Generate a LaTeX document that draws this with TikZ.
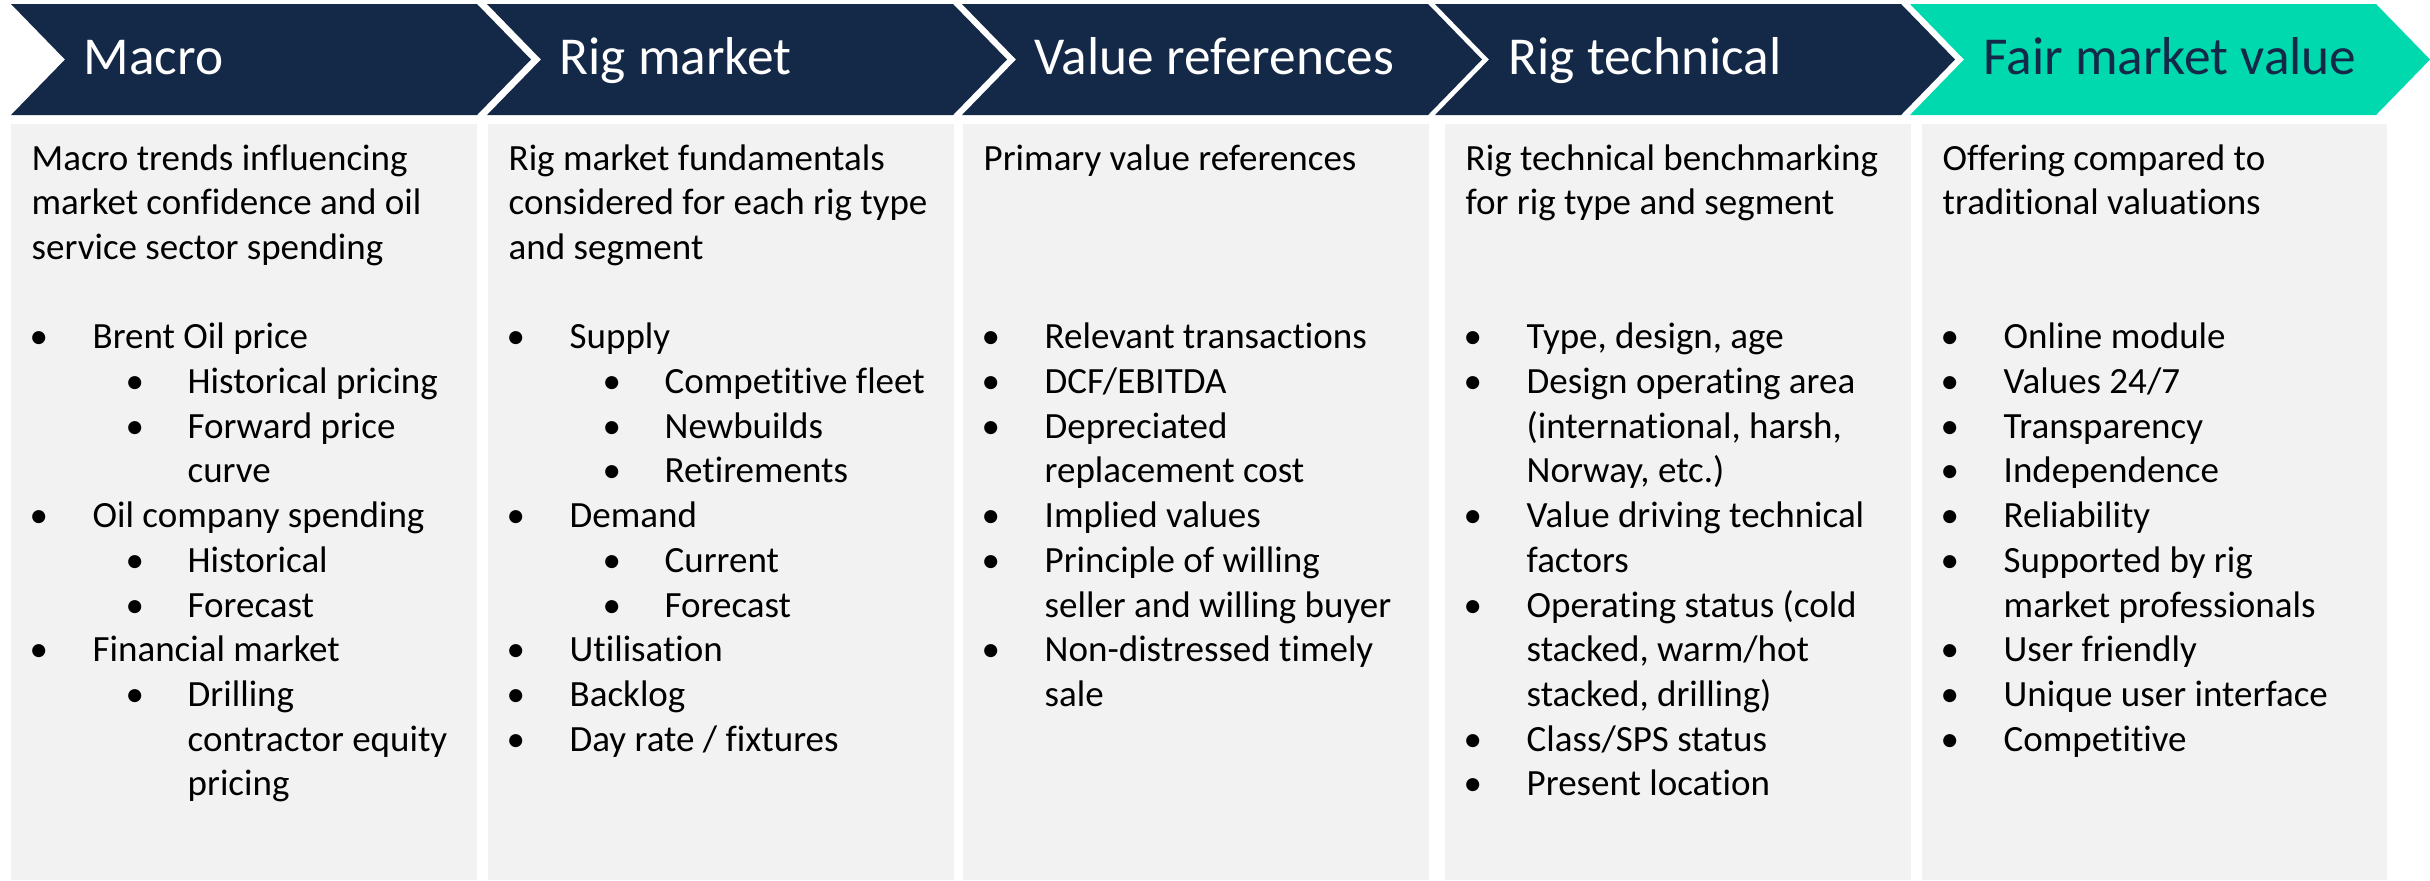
\documentclass[tikz,border=0pt]{standalone}
\usepackage{fontspec}
\setmainfont{Carlito}[Ligatures=NoCommon]
\definecolor{navy}{RGB}{20,40,72}
\definecolor{teal}{RGB}{0,216,174}
\definecolor{boxgray}{RGB}{242,242,242}
\tikzset{
  chev/.style={fill=navy, draw=none},
  chevlast/.style={fill=teal, draw=none},
  panel/.style={fill=boxgray, draw=none},
  headtxt/.style={inner sep=0pt, anchor=base west, text=white, font=\fontsize{16}{19}\selectfont},
  bodytxt/.style={inner sep=0pt, anchor=base west, text=black, font=\fontsize{11.1}{13.4}\selectfont},
}
\newcommand\mkPlain[3]{\node[bodytxt] (p#1-#2) at ({#1+20},{170+#2*44.7}) {#3};}
\newcommand\mkBul[3]{\node[bodytxt] (b#1-#2) at ({#1+18},{170+#2*44.7}) {•};
  \node[bodytxt] (t#1-#2) at ({#1+81},{170+#2*44.7}) {#3};}
\newcommand\mkCont[3]{\node[bodytxt] (t#1-#2) at ({#1+81},{170+#2*44.7}) {#3};}
\newcommand\mkSb[3]{\node[bodytxt] (b#1-#2) at ({#1+114},{170+#2*44.7}) {•};
  \node[bodytxt] (t#1-#2) at ({#1+176},{170+#2*44.7}) {#3};}
\newcommand\mkSbCont[3]{\node[bodytxt] (t#1-#2) at ({#1+176},{170+#2*44.7}) {#3};}
\newcommand\mkChev[3]{% left x, style, name
  \fill[#2] (#1,4) -- ({#1+466},4) -- ({#1+520},59.5) -- ({#1+466},115) -- (#1,115) -- ({#1+54},59.5) -- cycle;}
\begin{document}
\begin{tikzpicture}[x=0.3pt,y=-0.3pt]
\useasboundingbox (0,0) rectangle (2430,880);
% chevrons
\mkChev{11}{chev}{c1}
\mkChev{487}{chev}{c2}
\mkChev{962}{chev}{c3}
\mkChev{1435}{chev}{c4}
\mkChev{1910}{chevlast}{c5}
\node[headtxt] (h1) at (83,74) {Macro};
\node[headtxt] (h2) at (559,74) {Rig market};
\node[headtxt] (h3) at (1034,74) {Value references};
\node[headtxt] (h4) at (1508,74) {Rig technical};
\node[headtxt, text=navy] (h5) at (1983,74) {Fair market value};
% panels
\fill[panel] (11,124) rectangle (477,880);
\fill[panel] (488,124) rectangle (954,880);
\fill[panel] (963,124) rectangle (1429,880);
\fill[panel] (1445,124) rectangle (1911,880);
\fill[panel] (1922,124) rectangle (2387,880);
% column 1
\mkPlain{11}{0}{Macro trends influencing}
\mkPlain{11}{1}{market confidence and oil}
\mkPlain{11}{2}{service sector spending}
\mkBul{11}{4}{Brent Oil price}
\mkSb{11}{5}{Historical pricing}
\mkSb{11}{6}{Forward price}
\mkSbCont{11}{7}{curve}
\mkBul{11}{8}{Oil company spending}
\mkSb{11}{9}{Historical}
\mkSb{11}{10}{Forecast}
\mkBul{11}{11}{Financial market}
\mkSb{11}{12}{Drilling}
\mkSbCont{11}{13}{contractor equity}
\mkSbCont{11}{14}{pricing}
% column 2
\mkPlain{488}{0}{Rig market fundamentals}
\mkPlain{488}{1}{considered for each rig type}
\mkPlain{488}{2}{and segment}
\mkBul{488}{4}{Supply}
\mkSb{488}{5}{Competitive fleet}
\mkSb{488}{6}{Newbuilds}
\mkSb{488}{7}{Retirements}
\mkBul{488}{8}{Demand}
\mkSb{488}{9}{Current}
\mkSb{488}{10}{Forecast}
\mkBul{488}{11}{Utilisation}
\mkBul{488}{12}{Backlog}
\mkBul{488}{13}{Day rate / fixtures}
% column 3
\mkPlain{963}{0}{Primary value references}
\mkBul{963}{4}{Relevant transactions}
\mkBul{963}{5}{DCF/EBITDA}
\mkBul{963}{6}{Depreciated}
\mkCont{963}{7}{replacement cost}
\mkBul{963}{8}{Implied values}
\mkBul{963}{9}{Principle of willing}
\mkCont{963}{10}{seller and willing buyer}
\mkBul{963}{11}{Non-distressed timely}
\mkCont{963}{12}{sale}
% column 4
\mkPlain{1445}{0}{Rig technical benchmarking}
\mkPlain{1445}{1}{for rig type and segment}
\mkBul{1445}{4}{Type, design, age}
\mkBul{1445}{5}{Design operating area}
\mkCont{1445}{6}{(international, harsh,}
\mkCont{1445}{7}{Norway, etc.)}
\mkBul{1445}{8}{Value driving technical}
\mkCont{1445}{9}{factors}
\mkBul{1445}{10}{Operating status (cold}
\mkCont{1445}{11}{stacked, warm/hot}
\mkCont{1445}{12}{stacked, drilling)}
\mkBul{1445}{13}{Class/SPS status}
\mkBul{1445}{14}{Present location}
% column 5
\mkPlain{1922}{0}{Offering compared to}
\mkPlain{1922}{1}{traditional valuations}
\mkBul{1922}{4}{Online module}
\mkBul{1922}{5}{Values 24/7}
\mkBul{1922}{6}{Transparency}
\mkBul{1922}{7}{Independence}
\mkBul{1922}{8}{Reliability}
\mkBul{1922}{9}{Supported by rig}
\mkCont{1922}{10}{market professionals}
\mkBul{1922}{11}{User friendly}
\mkBul{1922}{12}{Unique user interface}
\mkBul{1922}{13}{Competitive}
\end{tikzpicture}
\end{document}
